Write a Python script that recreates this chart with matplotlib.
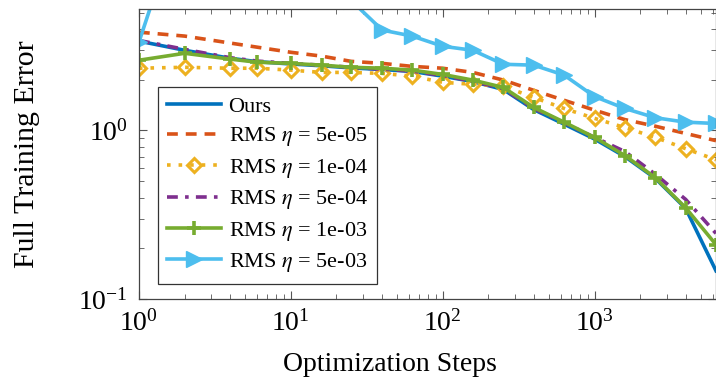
import matplotlib
matplotlib.use("Agg")
import matplotlib.pyplot as plt
from matplotlib.ticker import LogLocator, NullFormatter

plt.rcParams['font.family'] = ['Liberation Serif', 'DejaVu Serif']
plt.rcParams['mathtext.fontset'] = 'stix'

# optimization steps (x) shared by all series
steps = [1, 2, 4, 6, 10, 16, 25, 40, 63, 100, 158, 251, 398, 631, 1000,
         1585, 2512, 3981, 6310]

# full training error
ours = [3.39, 2.99, 2.68, 2.56, 2.48, 2.42, 2.35, 2.30, 2.24, 2.10, 1.95,
        1.75, 1.33, 1.09, 0.89, 0.70, 0.52, 0.345, 0.147]
rms_5e05 = [3.83, 3.63, 3.30, 3.12, 2.91, 2.76, 2.57, 2.50, 2.40, 2.34, 2.21,
            1.99, 1.73, 1.51, 1.32, 1.16, 1.06, 0.96, 0.87]
rms_1e04 = [2.34, 2.37, 2.34, 2.34, 2.28, 2.21, 2.21, 2.18, 2.10, 1.93, 1.88,
            1.83, 1.57, 1.35, 1.18, 1.04, 0.91, 0.78, 0.67]
rms_5e04 = [3.42, 3.03, 2.70, 2.58, 2.50, 2.44, 2.37, 2.31, 2.25, 2.12, 1.96,
            1.77, 1.35, 1.11, 0.91, 0.75, 0.55, 0.39, 0.245]
rms_1e03 = [2.61, 2.87, 2.65, 2.54, 2.50, 2.44, 2.37, 2.34, 2.28, 2.15, 1.99,
            1.80, 1.37, 1.12, 0.91, 0.71, 0.525, 0.348, 0.21]
rms_5e03 = [3.34, 22.0, 15.0, 11.0, 9.0, 7.0, 5.9, 3.94, 3.63, 3.16, 2.99,
            2.47, 2.44, 2.13, 1.59, 1.35, 1.19, 1.12, 1.10]

labels = ["Ours", r"RMS $\eta$ = 5e-05", r"RMS $\eta$ = 1e-04",
          r"RMS $\eta$ = 5e-04", r"RMS $\eta$ = 1e-03", r"RMS $\eta$ = 5e-03"]

fig = plt.figure(figsize=(7.16, 3.83), dpi=100)
ax = fig.add_axes([0.194, 0.2193, 0.806, 0.757])

ax.plot(steps, ours, color='#0072BD', lw=2.6, label=labels[0])
ax.plot(steps, rms_5e05, color='#D95319', lw=2.6, ls=(0, (3, 2.2)), label=labels[1])
ax.plot(steps, rms_1e04, color='#EDB120', lw=2.6, ls=(0, (1, 2.2)),
        marker='D', ms=7, mfc='none', mew=2.2, label=labels[2])
ax.plot(steps, rms_5e04, color='#7E2F8E', lw=2.6, ls=(0, (3, 2, 1, 2)), label=labels[3])
ax.plot(steps, rms_1e03, color='#77AC30', lw=2.6, marker='+', ms=10, mew=2.6,
        label=labels[4])
ax.plot(steps, rms_5e03, color='#4DBEEE', lw=2.6, marker='>', ms=12,
        label=labels[5])

ax.set_xscale('log')
ax.set_yscale('log')
ax.set_xlim(1, 6310)
ax.set_ylim(0.1, 5.25)

ax.xaxis.set_major_locator(LogLocator(base=10, numticks=10))
ax.xaxis.set_minor_locator(LogLocator(base=10, subs=range(2, 10), numticks=10))
ax.yaxis.set_minor_locator(LogLocator(base=10, subs=range(2, 10), numticks=10))
ax.xaxis.set_minor_formatter(NullFormatter())
ax.yaxis.set_minor_formatter(NullFormatter())

ax.tick_params(which='both', direction='in', top=True, right=True,
               color='#555555', labelsize=20)
ax.tick_params(axis='x', which='major', pad=8)
ax.tick_params(axis='y', which='major', pad=8)
ax.tick_params(which='major', length=6, width=0.8)
ax.tick_params(which='minor', length=3.5, width=0.6)
for sp in ax.spines.values():
    sp.set_color('#444444')
    sp.set_linewidth(0.9)

ax.set_xlabel('Optimization Steps', fontsize=20)
ax.set_ylabel('Full Training Error', fontsize=21.5)
ax.xaxis.label.set_va('center')
ax.yaxis.label.set_va('center')
ax.xaxis.set_label_coords(0.435, -0.225)
ax.yaxis.set_label_coords(-0.194, 0.498)

leg = ax.legend(loc='upper left', bbox_to_anchor=(0.033, 0.731), fontsize=16,
                frameon=True, fancybox=False, edgecolor='#333333',
                handlelength=2.4, handletextpad=0.36, labelspacing=0.38,
                borderpad=0.42, borderaxespad=0)
leg.get_frame().set_linewidth(0.9)
leg.get_frame().set_alpha(1)

fig.savefig('out.png', dpi=100)
